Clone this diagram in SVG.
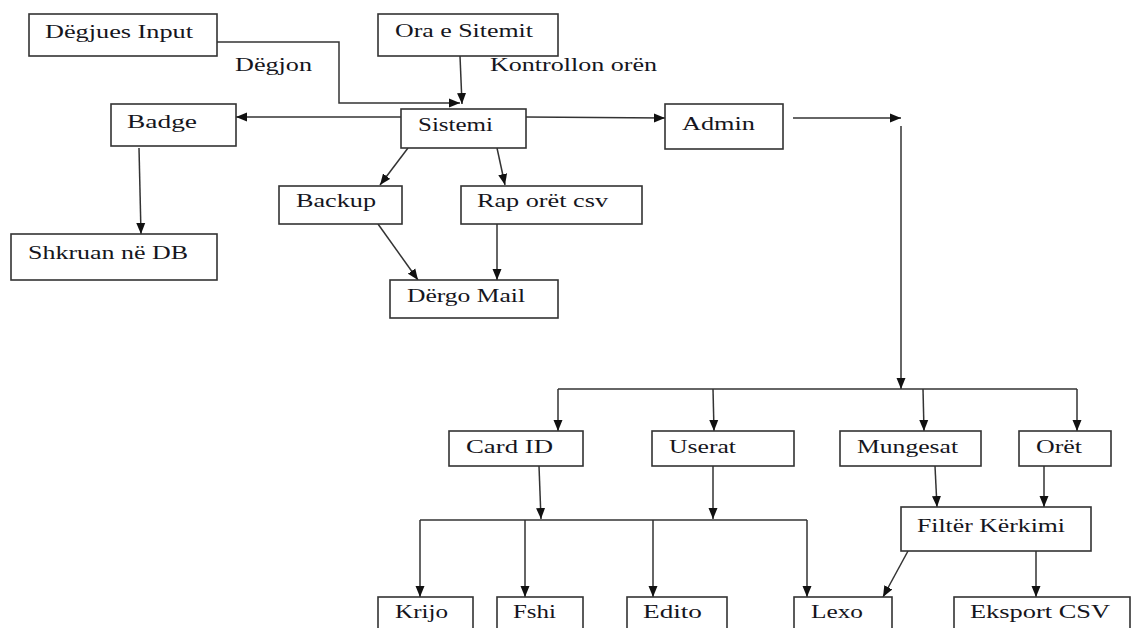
<svg xmlns="http://www.w3.org/2000/svg" width="1131" height="628" viewBox="0 0 1131 628">
<style>
.box rect{fill:#fff;stroke:#333;stroke-width:1.6}
.box text{font-family:"Liberation Serif","Times New Roman",serif;font-size:19px;fill:#151520}
.lbl{font-family:"Liberation Serif","Times New Roman",serif;font-size:19px;fill:#151520}
#connectors line,#connectors polyline{stroke:#333;stroke-width:1.5;fill:none}
.a{marker-end:url(#ah)}
</style>
<defs>
<marker id="ah" markerUnits="userSpaceOnUse" markerWidth="12" markerHeight="10" refX="11" refY="5" orient="auto">
<path d="M0,0.5 L11,5 L0,9.5 z" fill="#111"/>
</marker>
</defs>
<rect width="1131" height="628" fill="#fff"/>
<g id="connectors">
<polyline class="a" points="217,42 339,42 339,103 460,103"/>
<line class="a" x1="460" y1="56" x2="462" y2="104"/>
<line class="a" x1="401" y1="117" x2="236" y2="117"/>
<line class="a" x1="526" y1="117" x2="665" y2="118"/>
<line class="a" x1="408" y1="148" x2="380" y2="185"/>
<line class="a" x1="497" y1="148" x2="505" y2="185"/>
<line class="a" x1="139" y1="148" x2="141" y2="234"/>
<line class="a" x1="378" y1="224" x2="418" y2="280"/>
<line class="a" x1="497" y1="224" x2="497" y2="280"/>
<line class="a" x1="793" y1="118" x2="901" y2="118"/>
<line class="a" x1="901" y1="126" x2="901" y2="389"/>
<line x1="558" y1="389" x2="1077" y2="389"/>
<line class="a" x1="558" y1="389" x2="558" y2="431"/>
<line class="a" x1="713" y1="389" x2="714" y2="431"/>
<line class="a" x1="923" y1="389" x2="924" y2="431"/>
<line class="a" x1="1077" y1="389" x2="1077" y2="431"/>
<line class="a" x1="539" y1="466" x2="541" y2="519"/>
<line class="a" x1="713" y1="466" x2="713" y2="519"/>
<line x1="420" y1="520" x2="807" y2="520"/>
<line class="a" x1="420" y1="520" x2="420" y2="597"/>
<line class="a" x1="525" y1="520" x2="525" y2="597"/>
<line class="a" x1="653" y1="520" x2="653" y2="597"/>
<line class="a" x1="807" y1="520" x2="807" y2="597"/>
<line class="a" x1="935" y1="466" x2="937" y2="507"/>
<line class="a" x1="1044" y1="466" x2="1044" y2="507"/>
<line class="a" x1="908" y1="551" x2="883" y2="597"/>
<line class="a" x1="1036" y1="551" x2="1036" y2="597"/>
</g>
<text class="lbl" x="235" y="71" textLength="77" lengthAdjust="spacingAndGlyphs">Dëgjon</text>
<text class="lbl" x="490" y="71" textLength="167" lengthAdjust="spacingAndGlyphs">Kontrollon orën</text>
<g id="degjues" class="box"><rect x="29" y="14" width="188" height="42"/><text x="45" y="38" textLength="148" lengthAdjust="spacingAndGlyphs">Dëgjues Input</text></g>
<g id="ora" class="box"><rect x="378" y="14" width="180" height="42"/><text x="395" y="37" textLength="138" lengthAdjust="spacingAndGlyphs">Ora e Sitemit</text></g>
<g id="badge" class="box"><rect x="111" y="104" width="125" height="42"/><text x="127" y="128" textLength="70" lengthAdjust="spacingAndGlyphs">Badge</text></g>
<g id="sistemi" class="box"><rect x="401" y="109" width="125" height="39"/><text x="418" y="131" textLength="75" lengthAdjust="spacingAndGlyphs">Sistemi</text></g>
<g id="admin" class="box"><rect x="665" y="104" width="118" height="45"/><text x="682" y="130" textLength="73" lengthAdjust="spacingAndGlyphs">Admin</text></g>
<g id="shkruan" class="box"><rect x="11" y="234" width="206" height="46"/><text x="28" y="259" textLength="160" lengthAdjust="spacingAndGlyphs">Shkruan në DB</text></g>
<g id="backup" class="box"><rect x="279" y="186" width="123" height="38"/><text x="296" y="207" textLength="80" lengthAdjust="spacingAndGlyphs">Backup</text></g>
<g id="rap" class="box"><rect x="461" y="186" width="181" height="38"/><text x="477" y="207" textLength="131" lengthAdjust="spacingAndGlyphs">Rap orët csv</text></g>
<g id="dergo" class="box"><rect x="390" y="280" width="168" height="38"/><text x="407" y="302" textLength="118" lengthAdjust="spacingAndGlyphs">Dërgo Mail</text></g>
<g id="cardid" class="box"><rect x="449" y="431" width="134" height="35"/><text x="466" y="453" textLength="87" lengthAdjust="spacingAndGlyphs">Card ID</text></g>
<g id="userat" class="box"><rect x="652" y="431" width="142" height="35"/><text x="669" y="453" textLength="67" lengthAdjust="spacingAndGlyphs">Userat</text></g>
<g id="mungesat" class="box"><rect x="840" y="431" width="141" height="35"/><text x="857" y="453" textLength="101" lengthAdjust="spacingAndGlyphs">Mungesat</text></g>
<g id="oret" class="box"><rect x="1019" y="431" width="92" height="35"/><text x="1036" y="453" textLength="46" lengthAdjust="spacingAndGlyphs">Orët</text></g>
<g id="filter" class="box"><rect x="901" y="507" width="190" height="44"/><text x="917" y="532" textLength="148" lengthAdjust="spacingAndGlyphs">Filtër Kërkimi</text></g>
<g id="krijo" class="box"><rect x="378" y="597" width="95" height="45"/><text x="395" y="618" textLength="53" lengthAdjust="spacingAndGlyphs">Krijo</text></g>
<g id="fshi" class="box"><rect x="497" y="597" width="86" height="45"/><text x="513" y="618" textLength="43" lengthAdjust="spacingAndGlyphs">Fshi</text></g>
<g id="edito" class="box"><rect x="627" y="597" width="100" height="45"/><text x="643" y="618" textLength="59" lengthAdjust="spacingAndGlyphs">Edito</text></g>
<g id="lexo" class="box"><rect x="794" y="597" width="98" height="45"/><text x="811" y="618" textLength="52" lengthAdjust="spacingAndGlyphs">Lexo</text></g>
<g id="eksport" class="box"><rect x="954" y="597" width="176" height="45"/><text x="970" y="618" textLength="140" lengthAdjust="spacingAndGlyphs">Eksport CSV</text></g>
</svg>
